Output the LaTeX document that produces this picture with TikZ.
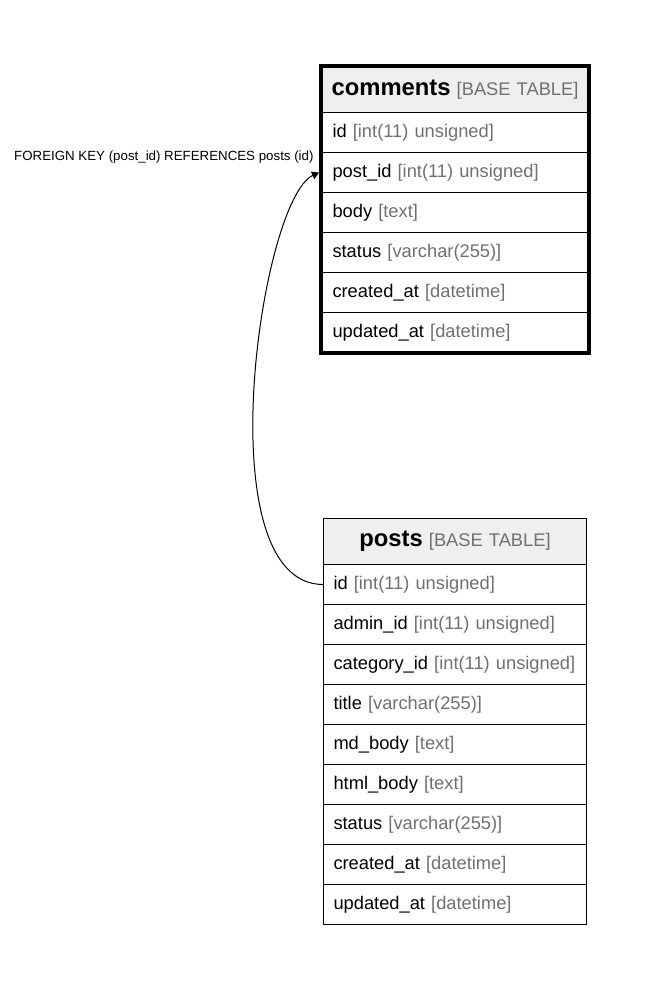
\documentclass[tikz,border=0pt]{standalone}
\usepackage{fontspec}
\setmainfont{Liberation Sans}
\usetikzlibrary{arrows.meta}
\definecolor{hdrgray}{RGB}{239,239,239}
\definecolor{typegray}{RGB}{112,112,112}
\newcommand{\coltype}[1]{\textcolor{typegray}{#1}}
\tikzset{
  tblrow/.style={draw,line width=1pt,anchor=north west,minimum height=40pt,inner ysep=0pt,align=left,font=\fontsize{18.3}{22}\selectfont},
  tblhdr/.style={tblrow,fill=hdrgray,minimum height=46pt,align=center},
  crow/.style={inner xsep=11pt,text width=245pt},
  prow/.style={inner xsep=10pt,text width=243pt},
  chdr/.style={inner xsep=3pt,text width=261pt},
  phdr/.style={inner xsep=3pt,text width=257pt}
}

\begin{document}
\begin{tikzpicture}[x=1pt,y=-1pt]
	\useasboundingbox (0,0) rectangle (654,987);
	% comments
	\node[tblhdr,chdr] (comments-hdr) at (321,66) {{\fontsize{23.8}{26}\selectfont\bfseries comments} \coltype{[BASE TABLE]}};
	\node[tblrow,crow] (comments-id) at (321,112) {id \coltype{[int(11) unsigned]}};
	\node[tblrow,crow] (comments-post_id) at (321,152) {post\_id \coltype{[int(11) unsigned]}};
	\node[tblrow,crow] (comments-body) at (321,192) {body \coltype{[text]}};
	\node[tblrow,crow] (comments-status) at (321,232) {status \coltype{[varchar(255)]}};
	\node[tblrow,crow] (comments-created_at) at (321,272) {created\_at \coltype{[datetime]}};
	\node[tblrow,crow] (comments-updated_at) at (321,312) {updated\_at \coltype{[datetime]}};
	\draw[line width=4pt] (comments-hdr.north west) rectangle (comments-updated_at.south east);
	% posts
	\node[tblhdr,phdr] (posts-hdr) at (323,518) {{\fontsize{23.8}{26}\selectfont\bfseries posts} \coltype{[BASE TABLE]}};
	\node[tblrow,prow] (posts-id) at (323,564) {id \coltype{[int(11) unsigned]}};
	\node[tblrow,prow] (posts-admin_id) at (323,604) {admin\_id \coltype{[int(11) unsigned]}};
	\node[tblrow,prow] (posts-category_id) at (323,644) {category\_id \coltype{[int(11) unsigned]}};
	\node[tblrow,prow] (posts-title) at (323,684) {title \coltype{[varchar(255)]}};
	\node[tblrow,prow] (posts-md_body) at (323,724) {md\_body \coltype{[text]}};
	\node[tblrow,prow] (posts-html_body) at (323,764) {html\_body \coltype{[text]}};
	\node[tblrow,prow] (posts-status) at (323,804) {status \coltype{[varchar(255)]}};
	\node[tblrow,prow] (posts-created_at) at (323,844) {created\_at \coltype{[datetime]}};
	\node[tblrow,prow] (posts-updated_at) at (323,884) {updated\_at \coltype{[datetime]}};
	% foreign key
	\node[anchor=west,inner sep=0pt,font=\fontsize{13.3}{16}\selectfont] (fklabel) at (14,157) {FOREIGN KEY (post\_id) REFERENCES posts (id)};
	\draw[line width=1pt,-{Triangle[length=7pt,width=8pt]}] (posts-id.west) .. controls (205,584) and (260,200) .. ([xshift=-2pt]comments-post_id.west);
\end{tikzpicture}
\end{document}
